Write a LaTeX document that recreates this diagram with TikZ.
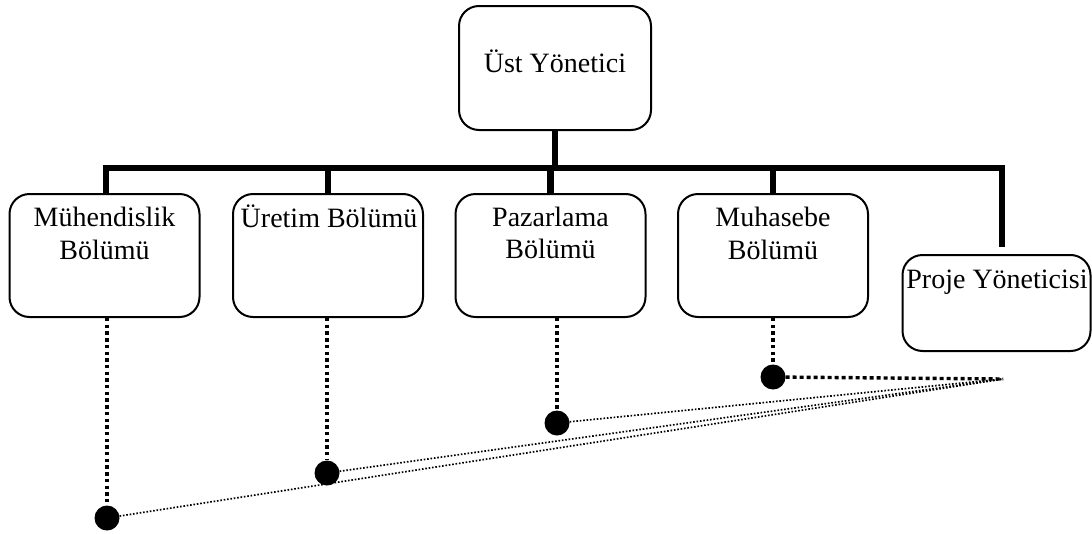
\documentclass[tikz,border=0pt]{standalone}
\usepackage{fontspec}
\setmainfont{Liberation Serif}
\begin{document}
\begin{tikzpicture}[x=1pt,y=-1pt,
  box/.style={draw, line width=2pt, rounded corners=20pt, inner sep=0pt},
  deptbox/.style={box, minimum width=190pt, minimum height=123pt},
  lbl/.style={font=\fontsize{28}{33}\selectfont, inner sep=0pt, anchor=base},
  bus/.style={line width=6.5pt},
  vdots/.style={line width=3.6pt, dash pattern=on 3.4pt off 3.3pt},
  hdots/.style={line width=3.4pt, dash pattern=on 4pt off 3pt},
  tdots/.style={line width=1.7pt, dash pattern=on 1.6pt off 1.8pt},
  dot/.style={circle, fill=black, minimum size=25pt, inner sep=0pt}]
\useasboundingbox (0,0) rectangle (1092,533);

% boxes
\node[box, minimum width=192pt, minimum height=124pt] (top) at (555,68) {};
\node[deptbox] (mh) at (104.5,255.5) {};
\node[deptbox] (ur) at (328,255.5) {};
\node[deptbox] (pz) at (550.5,255.5) {};
\node[deptbox] (mu) at (773,255.5) {};
\node[box, minimum width=188pt, minimum height=96pt] (pj) at (996.5,303) {};

% labels
\node[lbl] (top-a) at (555,72) {Üst Yönetici};
\node[lbl] (mh-a) at (104.5,226) {Mühendislik};
\node[lbl] (mh-b) at (104.5,259) {Bölümü};
\node[lbl] (ur-a) at (329,227) {Üretim Bölümü};
\node[lbl] (pz-a) at (550.5,226) {Pazarlama};
\node[lbl] (pz-b) at (550.5,258) {Bölümü};
\node[lbl] (mu-a) at (773,226) {Muhasebe};
\node[lbl] (mu-b) at (773,259) {Bölümü};
\node[lbl] (pj-a) at (997,288) {Proje Yöneticisi};

% solid reporting lines
\coordinate (busy) at (0,168);
\draw[bus] (top.south) -- (top.south |- busy);
\draw[bus] ([xshift=1.5pt]mh.north) -- ([xshift=1.5pt]mh.north |- busy)
  -- ([xshift=5.5pt]pj.north |- busy) -- ([xshift=5.5pt,yshift=7pt]pj.north);
\draw[bus] (ur.north) -- (ur.north |- busy);
\draw[bus] (pz.north) -- (pz.north |- busy);
\draw[bus] (mu.north) -- (mu.north |- busy);

% project links
\node[dot] (d1) at (107,518) {};
\node[dot] (d2) at (327,473) {};
\node[dot] (d3) at (557,423) {};
\node[dot] (d4) at (773,377) {};
\coordinate (pm) at (1003,379);

\draw[vdots] (d1 |- mh.south) -- (d1);
\draw[vdots] (d2 |- ur.south) -- (d2);
\draw[vdots] (d3 |- pz.south) -- (d3);
\draw[vdots] (d4 |- mu.south) -- (d4);

\draw[tdots] (d1) -- (pm);
\draw[tdots] (d2) -- (pm);
\draw[tdots] (d3) -- (pm);
\draw[hdots] (d4) -- (pm);
\end{tikzpicture}
\end{document}
